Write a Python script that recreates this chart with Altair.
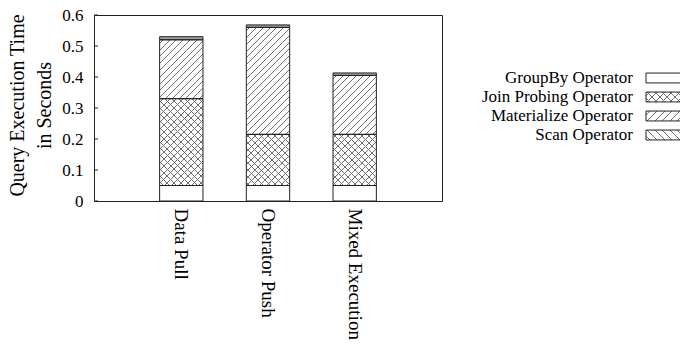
import altair as alt
import pandas as pd

# Query execution time per strategy, split by operator (seconds)
categories = ["Data Pull", "Operator Push", "Mixed Execution"]
series_names = ["GroupBy Operator", "Join Probing Operator", "Materialize Operator", "Scan Operator"]
groupby_time = [0.05, 0.05, 0.05]
join_probing_time = [0.28, 0.165, 0.165]
materialize_time = [0.19, 0.345, 0.19]
scan_time = [0.01, 0.008, 0.008]
y_ticks = [0, 0.1, 0.2, 0.3, 0.4, 0.5, 0.6]

# Layout / style
W, H = 348, 186
Y_MAX = 0.6
PAD_INNER, PAD_OUTER = 0.5, 0.757
FONT = "Liberation Serif"
INK = "#222"
HATCH = "#707070"

step = W / (len(categories) - PAD_INNER + 2 * PAD_OUTER)
band_px = step * (1 - PAD_INNER)
px_per_unit = H / Y_MAX

rows = []
for i, cat in enumerate(categories):
    base = 0.0
    for s, vals in zip(series_names, [groupby_time, join_probing_time, materialize_time, scan_time]):
        v = vals[i]
        rows.append(dict(cat=cat, series=s, start=base, end=base + v, value=v))
        base += v
bars = pd.DataFrame(rows)


def hatch(w, h, direction, period, width=1.0, color=HATCH):
    """Diagonal stripes as a hard-stop linear gradient, 45 degrees in pixel space."""
    span = w + h
    k = span / (w * w + h * h)
    if direction == "/":
        x1, y1, x2, y2 = 0, 0, k * w, k * h
    else:
        x1, y1, x2, y2 = 0, 1, k * w, 1 - k * h
    clear = "rgba(255,255,255,0)"
    stops = [alt.GradientStop(offset=0, color=clear)]
    t = period / 2
    while t - width / 2 < span:
        a = round(max(0.0, (t - width / 2) / span), 5)
        b = round(min(1.0, (t + width / 2) / span), 5)
        stops += [
            alt.GradientStop(offset=a, color=clear),
            alt.GradientStop(offset=a, color=color),
            alt.GradientStop(offset=b, color=color),
            alt.GradientStop(offset=b, color=clear),
        ]
        t += period
    stops.append(alt.GradientStop(offset=1, color=clear))
    return alt.LinearGradient(gradient="linear", stops=stops,
                              x1=round(x1, 5), y1=round(y1, 5), x2=round(x2, 5), y2=round(y2, 5))


x_enc = alt.X(
    "cat:N", sort=categories,
    scale=alt.Scale(paddingInner=PAD_INNER, paddingOuter=PAD_OUTER),
    axis=alt.Axis(title=None, labelAngle=90, labelAlign="left", labelBaseline="middle",
                  labelPadding=7, labelFontSize=19, ticks=False, tickSize=0, domain=False, grid=False),
)
y_scale = alt.Scale(domain=[0, Y_MAX], nice=False, zero=True)
y_axis = alt.Axis(
    values=y_ticks, labelExpr="datum.value == 0 ? '0' : format(datum.value, '.1f')",
    labelFontSize=17, labelPadding=11, ticks=False, tickSize=0, domain=False, grid=False,
    title=["Query Execution Time", "in Seconds"], titleFontSize=20, titleFontWeight="normal",
    titleLineHeight=27, titleAngle=-90, titleAlign="center", titleBaseline="alphabetic",
    titleX=-71, titleY=90,
)

fill_layer = alt.Chart(bars).mark_bar(strokeWidth=0).encode(
    x=x_enc,
    y=alt.Y("start:Q", scale=y_scale, axis=y_axis),
    y2="end:Q",
    fill=alt.Fill("series:N", scale=alt.Scale(domain=series_names,
                                              range=["white", "white", "white", "#a0a0a0"]),
                  legend=None),
)

pattern_layers = []
for i, cat in enumerate(categories):
    for s, vals, dirs in [("Join Probing Operator", join_probing_time, ["/", "\\"]),
                          ("Materialize Operator", materialize_time, ["/"])]:
        h = vals[i] * px_per_unit
        for d in dirs:
            pattern_layers.append(
                alt.Chart(bars)
                .transform_filter((alt.datum.cat == cat) & (alt.datum.series == s))
                .mark_bar(fill=hatch(band_px, h, d, 6.8), strokeWidth=0)
                .encode(x=x_enc, y=alt.Y("start:Q", scale=y_scale, axis=y_axis), y2="end:Q")
            )

outline_layer = alt.Chart(bars).mark_bar(fillOpacity=0, stroke=INK, strokeWidth=1).encode(
    x=x_enc, y=alt.Y("start:Q", scale=y_scale, axis=y_axis), y2="end:Q"
)

# Inward ticks on the value axis
tick_layer = alt.Chart(pd.DataFrame({"v": y_ticks})).mark_rule(color=INK, strokeWidth=1).encode(
    x=alt.value(0), x2=alt.value(4), y=alt.Y("v:Q", scale=y_scale, axis=y_axis)
)

main = alt.layer(fill_layer, *pattern_layers, outline_layer, tick_layer)

# Key on the right
key = pd.DataFrame({"series": series_names, "row": list(range(len(series_names)))})
key_scale = alt.Scale(domain=[0, 3], range=[63, 120], nice=False, zero=False)
SW_X0, SW_X1 = 552, 590
SW_HALF = 0.26
sw_w = SW_X1 - SW_X0
sw_h = 2 * SW_HALF * (120 - 63) / 3

key_base = alt.Chart(key).transform_calculate(
    top=f"datum.row - {SW_HALF}", bottom=f"datum.row + {SW_HALF}"
)
key_fill = key_base.mark_rect(fill="white").encode(
    x=alt.value(SW_X0), x2=alt.value(SW_X1),
    y=alt.Y("top:Q", scale=key_scale, axis=None), y2="bottom:Q",
)
key_patterns = []
for s, dirs in [("Join Probing Operator", ["/", "\\"]),
                ("Materialize Operator", ["/"]),
                ("Scan Operator", ["\\"])]:
    for d in dirs:
        key_patterns.append(
            key_base.transform_filter(alt.datum.series == s)
            .mark_rect(fill=hatch(sw_w, sw_h, d, 7.5))
            .encode(x=alt.value(SW_X0), x2=alt.value(SW_X1),
                    y=alt.Y("top:Q", scale=key_scale, axis=None), y2="bottom:Q")
        )
key_outline = key_base.mark_rect(fillOpacity=0, stroke=INK, strokeWidth=1).encode(
    x=alt.value(SW_X0), x2=alt.value(SW_X1),
    y=alt.Y("top:Q", scale=key_scale, axis=None), y2="bottom:Q",
)
key_text = alt.Chart(key).mark_text(
    align="right", baseline="middle", font=FONT, fontSize=17, color="black"
).encode(x=alt.value(539), y=alt.Y("row:Q", scale=key_scale, axis=None), text="series:N")

legend = alt.layer(key_fill, *key_patterns, key_outline, key_text)

chart = (
    alt.layer(main, legend)
    .resolve_scale(y="independent")
    .properties(
        width=W, height=H,
        autosize=alt.AutoSizeParams(type="none"),
        padding={"left": 94, "top": 15, "right": 680 - 94 - W, "bottom": 344 - 15 - H},
        background="white",
    )
    .configure_view(stroke=INK, strokeWidth=1)
    .configure_axis(labelFont=FONT, titleFont=FONT, labelColor="black", titleColor="black")
)

chart.save("out.html", embed_options={"renderer": "svg", "actions": False})
